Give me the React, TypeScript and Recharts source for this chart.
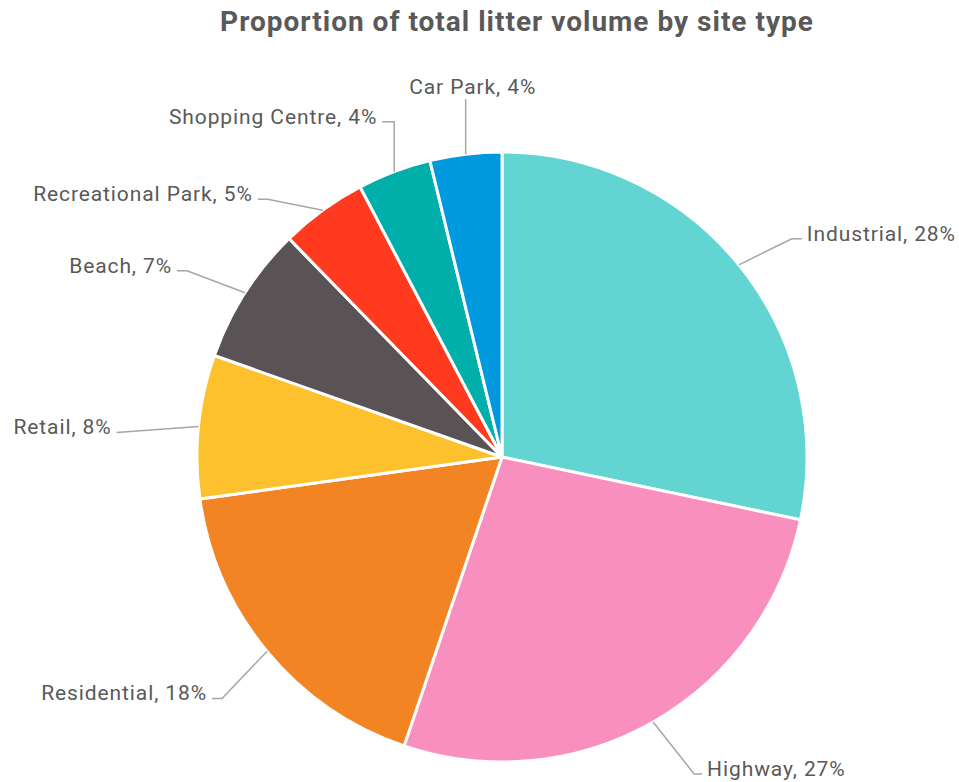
import { Cell, Pie, PieChart } from 'recharts';

const SITES = ['Industrial', 'Highway', 'Residential', 'Retail', 'Beach', 'Recreational Park', 'Shopping Centre', 'Car Park'];
const SHARES = [28.3, 26.9, 17.6, 7.6, 7.3, 4.6, 3.9, 3.8];
const COLORS = ['#62D5D3', '#F98FBE', '#F28423', '#FDC12E', '#595356', '#FF3A1F', '#00AFAA', '#0099DD'];

// leader line shape per slice: elbow offset from the rim point, then a short tail (layout only)
const LEADERS = [
  { dx: 53, dy: -26, tail: 10, align: 'start' },
  { dx: 41, dy: 52, tail: 8, align: 'start' },
  { dx: -45, dy: 47, tail: 10, align: 'end' },
  { dx: -82, dy: 6, tail: 0, align: 'end' },
  { dx: -58, dy: -22, tail: 10, align: 'end' },
  { dx: -55, dy: -11, tail: 10, align: 'end' },
  { dx: 0, dy: -50, tail: 12, align: 'end' },
  { dx: 0, dy: -55, tail: 0, align: 'middle' }
];

const data = SITES.map((name, i) => ({ name, value: SHARES[i] }));

const RADIAN = Math.PI / 180;
const FONT = 'Roboto, "Open Sans", sans-serif';
const TEXT_COLOR = '#595959';
const LINE_COLOR = '#A6A6A6';

function LeaderLabel(props: any) {
  const { cx, cy, midAngle, outerRadius, index, name, percent } = props;
  const sx = cx + outerRadius * Math.cos(-midAngle * RADIAN);
  const sy = cy + outerRadius * Math.sin(-midAngle * RADIAN);
  const { dx, dy, tail, align } = LEADERS[index];
  const ex = sx + dx;
  const ey = sy + dy;
  const dir = align === 'start' ? 1 : -1;
  const tx = align === 'middle' ? ex : ex + dir * tail;
  const text = `${name}, ${Math.round(percent * 100)}%`;

  const labelX = align === 'middle' ? ex + 7 : tx + dir * 5;
  const labelY = align === 'middle' ? ey - 12 : ey - 5;

  return (
    <g>
      <path d={`M${sx},${sy}L${ex},${ey}L${tx},${ey}`} stroke={LINE_COLOR} strokeWidth={1.5} fill="none" />
      <text
        x={labelX}
        y={labelY}
        textAnchor={align}
        dominantBaseline="central"
        fill={TEXT_COLOR}
        fontSize={21}
        letterSpacing={0.9}
        fontFamily={FONT}
      >
        {text}
      </text>
    </g>
  );
}

export default function App() {
  return (
    <div style={{ position: 'absolute', left: 0, top: 0, width: 959, height: 782, background: '#fff' }}>
      <div
        style={{
          position: 'absolute',
          top: 5,
          left: 0,
          width: 1034,
          textAlign: 'center',
          fontFamily: FONT,
          fontWeight: 700,
          fontSize: 28,
          letterSpacing: 1,
          color: TEXT_COLOR
        }}
      >
        Proportion of total litter volume by site type
      </div>
      <PieChart width={959} height={782} margin={{ top: 0, right: 0, bottom: 0, left: 0 }}>
        <Pie
          data={data}
          dataKey="value"
          nameKey="name"
          cx={502}
          cy={457}
          outerRadius={305}
          startAngle={90}
          endAngle={-270}
          stroke="#fff"
          strokeWidth={3}
          label={LeaderLabel}
          labelLine={false}
          isAnimationActive={false}
        >
          {data.map((d, i) => (
            <Cell key={d.name} fill={COLORS[i]} />
          ))}
        </Pie>
      </PieChart>
    </div>
  );
}
